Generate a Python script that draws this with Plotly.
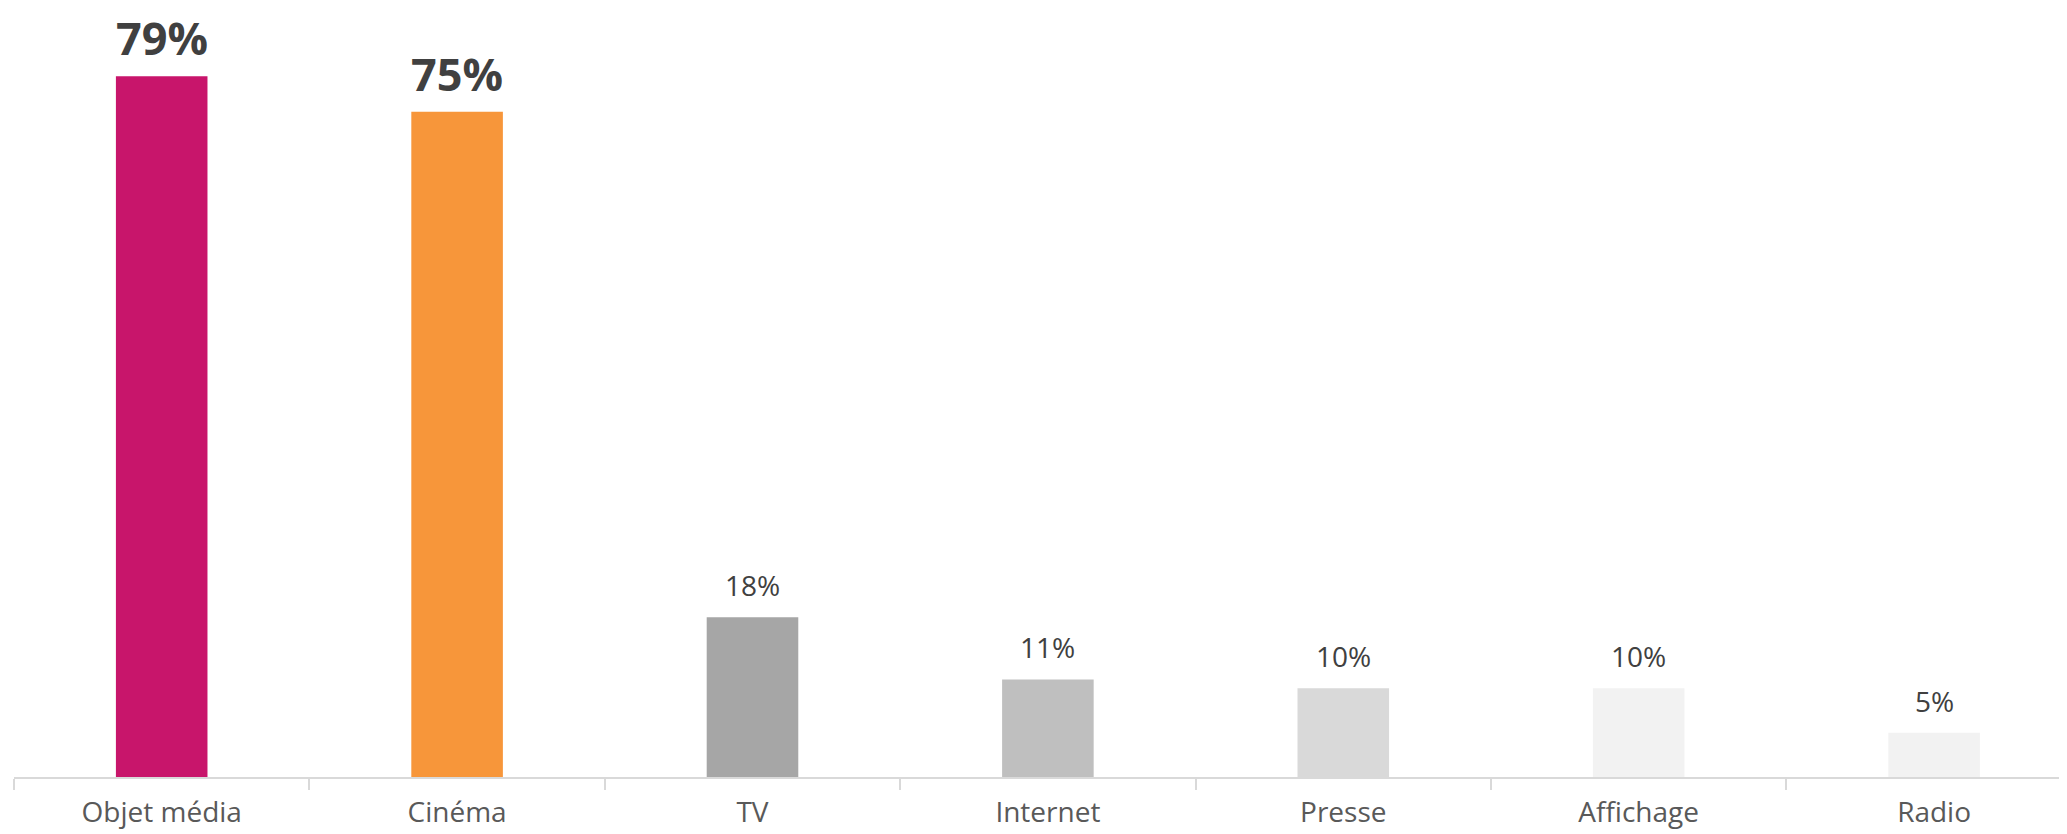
import plotly.graph_objects as go

categories = ["Objet média", "Cinéma", "TV", "Internet", "Presse", "Affichage", "Radio"]
values = [0.79, 0.75, 0.18, 0.11, 0.10, 0.10, 0.05]
labels = ["79%", "75%", "18%", "11%", "10%", "10%", "5%"]
colors = ["#C8156B", "#F7963A", "#A6A6A6", "#BFBFBF", "#D9D9D9", "#F2F2F2", "#F2F2F2"]
bold = [True, True, False, False, False, False, False]

fig = go.Figure()
fig.add_trace(go.Bar(x=categories, y=values, marker=dict(color=colors, line=dict(width=0)),
                     width=0.31, hoverinfo="skip"))

for c, v, t, b in zip(categories, values, labels, bold):
    fig.add_annotation(x=c, y=v, text=f"<b>{t}</b>" if b else t, showarrow=False,
                       yanchor="bottom", yshift=7 if b else 12, borderpad=0,
                       font=dict(family="Open Sans", size=45 if b else 28, color="#404040"))

fig.update_layout(
    width=2059, height=826,
    margin=dict(l=6, r=0, t=0, b=57),
    paper_bgcolor="white", plot_bgcolor="white",
    showlegend=False,
    xaxis=dict(range=[-0.5, 6.45], showline=True, linecolor="#D9D9D9", linewidth=2,
               ticks="outside", tickson="boundaries", ticklen=11, tickcolor="#D9D9D9", tickwidth=2,
               tickfont=dict(family="Open Sans", size=28, color="#595959"),
               automargin=False, ticklabelstandoff=9,
               showgrid=False, zeroline=False),
    yaxis=dict(range=[0, 0.867], visible=False, showgrid=False, zeroline=False, automargin=False),
)

fig.write_html("out.html")
